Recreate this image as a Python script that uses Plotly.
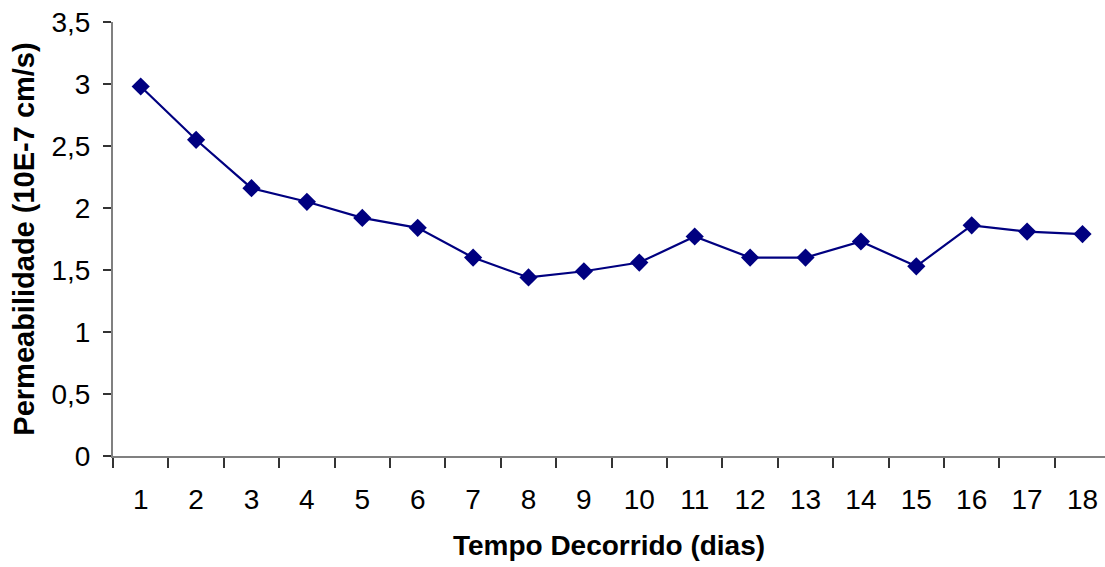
import plotly.graph_objects as go

days = list(range(1, 19))
day_labels = [str(d) for d in days]
permeabilidade = [2.98, 2.55, 2.16, 2.05, 1.92, 1.84, 1.60, 1.44, 1.49, 1.56,
                  1.77, 1.60, 1.60, 1.73, 1.53, 1.86, 1.81, 1.79]
y_ticks = [0, 0.5, 1, 1.5, 2, 2.5, 3, 3.5]
y_tick_labels = ["0", "0,5", "1", "1,5", "2", "2,5", "3", "3,5"]
boundaries = [d - 0.5 for d in days] + [18.5]

FONT = "Liberation Sans, Arial, sans-serif"

fig = go.Figure()
fig.add_trace(go.Scatter(
    x=days, y=permeabilidade, mode="lines+markers",
    line=dict(color="#000080", width=2.2),
    marker=dict(symbol="diamond", size=14, color="#000080"),
    showlegend=False,
))

fig.update_layout(
    width=1105, height=567,
    margin=dict(l=113, r=0, t=22, b=111),
    paper_bgcolor="white", plot_bgcolor="white",
    font=dict(family=FONT, color="black", size=28),
    xaxis=dict(
        range=[0.5, 0.5 + 992 / 55.4],
        tickvals=days, ticktext=day_labels, ticks="",
        ticklabelstandoff=17,
        tickfont=dict(size=28),
        showline=True, linecolor="#808080", linewidth=2,
        showgrid=False, zeroline=False,
        minor=dict(tickvals=boundaries, ticks="outside", ticklen=10,
                   tickcolor="#333333", tickwidth=1.5, showgrid=False),
        title=dict(text="<b>Tempo Decorrido (dias)</b>", font=dict(size=28), standoff=22),
    ),
    yaxis=dict(
        range=[0, 3.5],
        tickvals=y_ticks, ticktext=y_tick_labels,
        ticks="outside", ticklen=8, tickcolor="#333333", tickwidth=1.5,
        ticklabelstandoff=7,
        tickfont=dict(size=28),
        showline=True, linecolor="#808080", linewidth=2,
        showgrid=False, zeroline=False,
        title=dict(text="<b>Permeabilidade (10E-7 cm/s)</b>", font=dict(size=29), standoff=8),
    ),
)

fig.write_html("out.html")
